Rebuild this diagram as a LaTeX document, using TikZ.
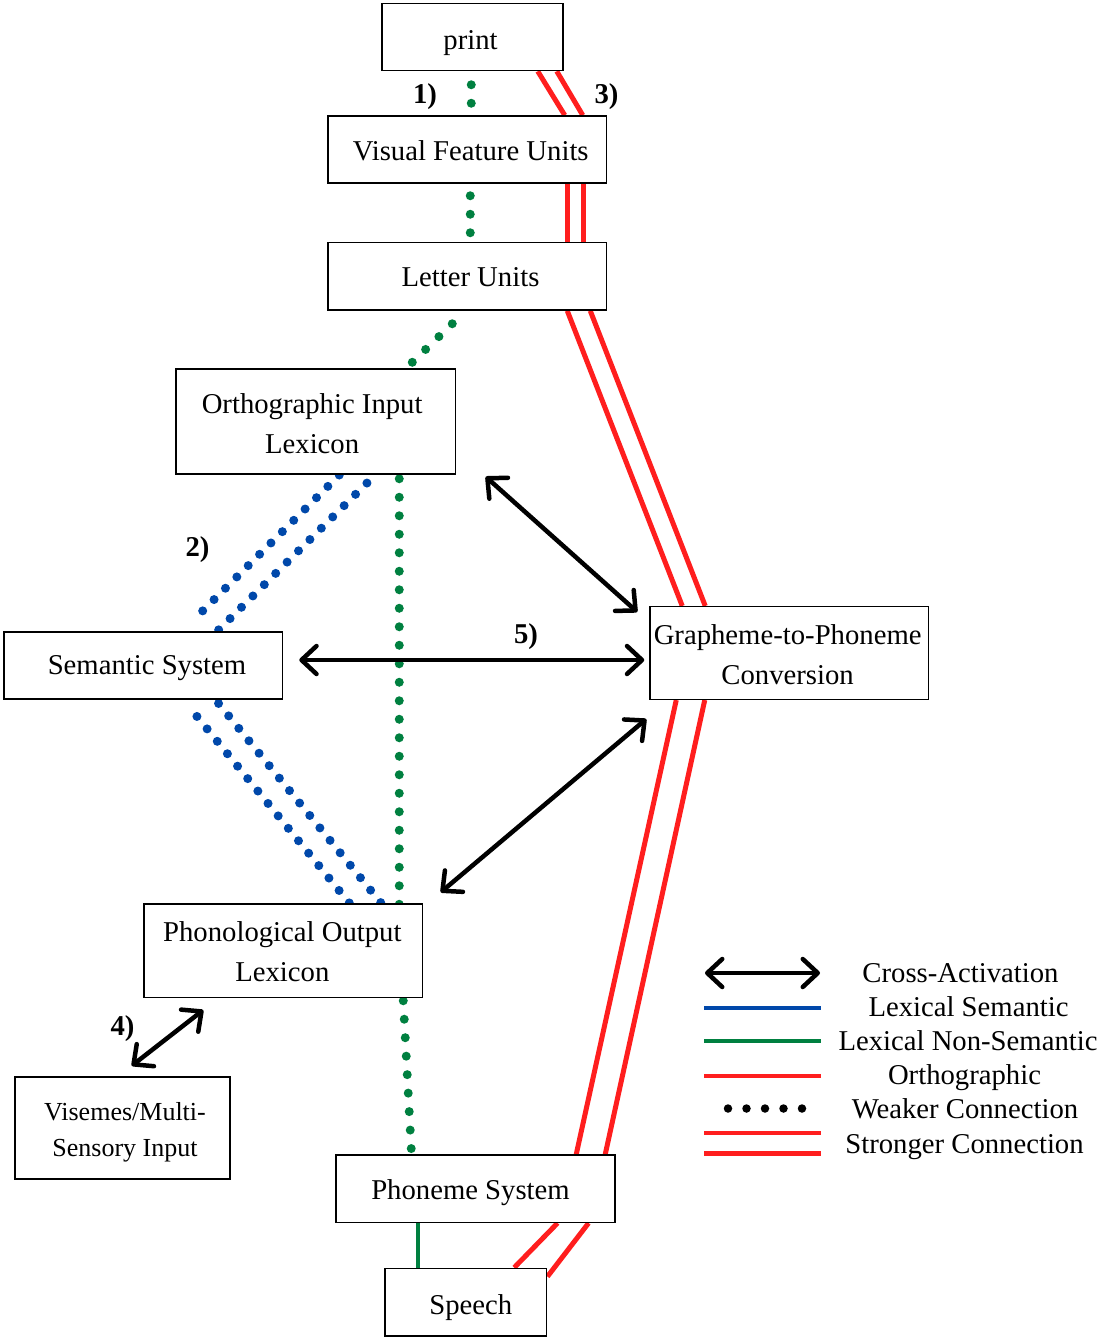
\documentclass[tikz,border=0pt]{standalone}
\usepackage{fontspec}
\setmainfont{Liberation Serif}
\usetikzlibrary{arrows.meta,calc}
\definecolor{dgreen}{RGB}{0,128,64}
\definecolor{dblue}{RGB}{0,72,170}
\definecolor{lred}{RGB}{255,30,30}
\pgfdeclarelayer{bg}
\pgfsetlayers{bg,main}
\newcommand{\firstl}[1]{\rule{0pt}{#1}}
\newcommand{\lastl}[1]{\rule[-#1]{0pt}{#1}}
\begin{document}
\begin{tikzpicture}[x=1pt,y=-1pt,
  box/.style={draw, line width=1.5pt, fill=white, inner sep=0pt, align=center,
    font=\fontsize{28.7}{40}\selectfont},
  one/.style={text height=21pt, text depth=0pt},
  gdot/.style={draw=dgreen, line width=9pt, line cap=round, dash pattern=on 0pt off 18.5pt},
  bdot/.style={draw=dblue, line width=9pt, line cap=round, dash pattern=on 0pt off 16.05pt},
  kdot/.style={draw=black, line width=8.5pt, line cap=round, dash pattern=on 0pt off 18.5pt},
  strong/.style={draw=lred, line width=5pt},
  solidg/.style={draw=dgreen, line width=4.5pt},
  xact/.style={draw=black, line width=4.5pt, line cap=round,
    {Straight Barb[length=15pt,width=28pt,round]}-{Straight Barb[length=15pt,width=28pt,round]}},
  num/.style={font=\fontsize{28.7}{34}\bfseries\selectfont, inner sep=0pt, anchor=base},
  legtext/.style={font=\fontsize{28.7}{34}\selectfont, inner sep=0pt, anchor=base}
]
\useasboundingbox (0,0) rectangle (1100,1338);

% boxes
\node[box, text height=26pt, text depth=0pt, minimum width=181pt, minimum height=67pt] (print) at (472.5,37) {print\hspace*{4pt}};
\node[box, one, minimum width=278.5pt, minimum height=67pt] (vfu) at (467.25,149.5) {\hspace*{7pt}Visual Feature Units};
\node[box, one, minimum width=278.5pt, minimum height=67.5pt] (lu) at (467.25,276.25) {\hspace*{6.5pt}Letter Units};
\node[box, minimum width=279.3pt, minimum height=105pt] (oil) at (315.65,421.5)
  {\firstl{26.4pt}Orthographic Input\hspace*{7pt}\\Lexicon\lastl{3pt}\hspace*{7pt}};
\node[box, text height=17pt, text depth=0pt, minimum width=278.5pt, minimum height=67pt] (sem) at (143.25,665.5) {\hspace*{7.5pt}Semantic System};
\node[box, minimum width=278.3pt, minimum height=92.6pt] (gpc) at (789.15,653)
  {\firstl{25pt}Grapheme-to-Phoneme\hspace*{3pt}\\Conversion\lastl{3pt}\hspace*{3pt}};
\node[box, minimum width=278.7pt, minimum height=93.3pt] (pol) at (283.35,950.65)
  {\firstl{25pt}Phonological Output\hspace*{2pt}\\Lexicon\lastl{3pt}\hspace*{2pt}};
\node[box, line width=2.5pt, minimum width=215pt, minimum height=102pt,
  font=\fontsize{26}{36}\selectfont] (vis) at (122.5,1128)
  {\hspace*{5pt}\firstl{26pt}Visemes/Multi-\\\hspace*{5pt}Sensory Input\lastl{6pt}};
\node[box, one, minimum width=279pt, minimum height=67.3pt] (phs) at (475.5,1188.65) {Phoneme System\hspace*{10pt}};
\node[box, text height=25pt, text depth=0pt, minimum width=161.7pt, minimum height=67.7pt] (sp) at (465.85,1302.15) {\hspace*{10pt}Speech};

\begin{pgfonlayer}{bg}
% green weaker (lexical non-semantic)
\draw[gdot] ($(print.south west)+(90,13.5)$) -- ($(vfu.north west)+(144,-12)$);
\draw[gdot] ($(vfu.south west)+(143,12)$) -- ($(lu.north west)+(143,-8.5)$);
\draw[gdot] ($(lu.south west)+(125,13)$) -- ($(oil.north west)+(235,-4)$);
\draw[gdot] ($(oil.south west)+(224,4)$) -- ($(pol.north west)+(256,1)$);
\draw[gdot] ($(pol.south west)+(260,2.7)$) -- ($(phs.north west)+(76,-5.5)$);
\draw[solidg] ($(phs.south west)+(82.5,0)$) -- ($(sp.north west)+(33.5,0)$);
% blue weaker (lexical semantic)
\draw[bdot] ($(oil.south west)+(164,0.3)$) -- ($(sem.north west)+(188.2,-9.2)$);
\draw[bdot] ($(oil.south west)+(191.7,8.3)$) -- ($(sem.north west)+(215,-1)$);
\draw[bdot] ($(sem.south west)+(193.7,16.7)$) -- ($(pol.north west)+(206.3,0)$);
\draw[bdot] ($(sem.south west)+(215.3,3.7)$) -- ($(pol.north west)+(238,0)$);
% red stronger (orthographic)
\draw[strong] ($(print.south west)+(156.5,0)$) -- ($(vfu.north west)+(237.5,0)$);
\draw[strong] ($(print.south west)+(175.5,0)$) -- ($(vfu.north west)+(255.5,0)$);
\draw[strong] ($(vfu.south west)+(240,0)$) -- ($(lu.north west)+(240,0)$);
\draw[strong] ($(vfu.south west)+(256.5,0)$) -- ($(lu.north west)+(256.5,0)$);
\draw[strong] ($(lu.south west)+(240,0)$) -- ($(gpc.north west)+(33,0)$);
\draw[strong] ($(lu.south west)+(263,0)$) -- ($(gpc.north west)+(56,0)$);
\draw[strong] ($(gpc.south west)+(27,0)$) -- ($(phs.north west)+(241,0)$);
\draw[strong] ($(gpc.south west)+(55.5,0)$) -- ($(phs.north west)+(270,0)$);
\draw[strong] ($(phs.south west)+(222.3,0)$) -- ($(sp.north west)+(130,0)$);
\draw[strong] ($(phs.south west)+(253.3,0)$) -- ($(sp.north east)+(0,9)$);
\end{pgfonlayer}

% cross-activation arrows
\draw[xact] ($(oil.south east)+(29.7,2)$) -- ($(gpc.north west)+(-12,6)$);
\draw[xact] ($(sem.east)+(16,-5.5)$) -- ($(gpc.west)+(-5,7)$);
\draw[xact] ($(gpc.south west)+(-3,19)$) -- ($(pol.north east)+(17.3,-11)$);
\draw[xact] ($(vis.north west)+(118,-10)$) -- ($(pol.south west)+(60,12)$);

% numbers
\node[num] (n1) at (425,103.5) {1)};
\node[num] (n3) at (606.5,103.5) {3)};
\node[num] (n2) at (197.5,556.7) {2)};
\node[num] (n5) at (526,643) {5)};
\node[num] (n4) at (122.5,1035) {4)};

% legend
\coordinate (la1) at (705,973);  \coordinate (la2) at (820,973);
\coordinate (lb1) at (704,1008); \coordinate (lb2) at (821,1008);
\coordinate (lg1) at (704,1041); \coordinate (lg2) at (821,1041);
\coordinate (lr1) at (704,1076); \coordinate (lr2) at (821,1076);
\coordinate (lk1) at (728,1108.5); \coordinate (lk2) at (803,1108.5);
\coordinate (ls1) at (704,1133); \coordinate (ls2) at (821,1133);
\coordinate (lt1) at (704,1153.5); \coordinate (lt2) at (821,1153.5);
\draw[xact] (la1) -- (la2);
\draw[draw=dblue, line width=4.5pt] (lb1) -- (lb2);
\draw[draw=dgreen, line width=4.5pt] (lg1) -- (lg2);
\draw[draw=lred, line width=4.5pt] (lr1) -- (lr2);
\draw[kdot] (lk1) -- (lk2);
\draw[draw=lred, line width=4.5pt] (ls1) -- (ls2);
\draw[draw=lred, line width=4.5pt] (lt1) -- (lt2);
\node[legtext] (t1) at (960.5,982) {Cross-Activation};
\node[legtext] (t2) at (968.5,1016) {Lexical Semantic};
\node[legtext] (t3) at (968,1050) {Lexical Non-Semantic};
\node[legtext] (t4) at (964.5,1084) {Orthographic};
\node[legtext] (t5) at (965,1118) {Weaker Connection};
\node[legtext] (t6) at (964.5,1153) {Stronger Connection};
\end{tikzpicture}
\end{document}
